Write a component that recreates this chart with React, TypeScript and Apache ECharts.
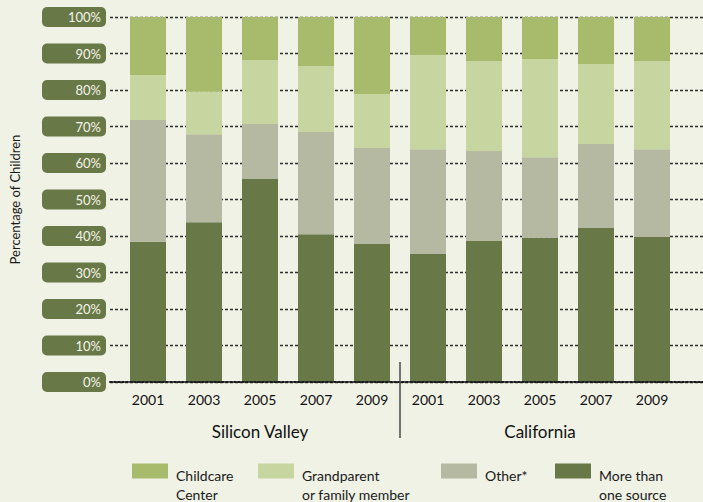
import React, { useEffect, useRef } from "react";
import * as echarts from "echarts";

const years = ["2001", "2003", "2005", "2007", "2009", "2001", "2003", "2005", "2007", "2009"];
const moreThanOne = [38.4, 43.8, 55.6, 40.5, 37.8, 35.1, 38.6, 39.5, 42.2, 39.7];
const other = [33.4, 24.1, 15.1, 28.0, 26.3, 28.7, 24.7, 22.1, 23.0, 24.1];
const grandparent = [12.3, 11.6, 17.5, 18.1, 14.8, 25.8, 24.6, 26.9, 21.9, 24.1];
const childcare = [15.9, 20.5, 11.8, 13.4, 21.1, 10.4, 12.1, 11.5, 12.9, 12.1];
const yTicks = [0, 10, 20, 30, 40, 50, 60, 70, 80, 90, 100];
const groups = ["Silicon Valley", "California"];
const legendLabels: Record<string, string[]> = {
  "Childcare Center": ["Childcare", "Center"],
  "Grandparent or family member": ["Grandparent", "or family member"],
  "Other*": ["Other*", " "],
  "More than one source": ["More than", "one source"],
};

const FONT = "Lato, 'Open Sans', sans-serif";
const C_CHILD = "#a8bb6d";
const C_GRAND = "#c7d5a0";
const C_OTHER = "#b5b9a2";
const C_MORE = "#697847";
const BG = "#eff2e5";

export default function App() {
  const ref = useRef<HTMLDivElement>(null);
  useEffect(() => {
    document.body.style.margin = "0";
    document.body.style.background = BG;
    const chart = echarts.init(ref.current!, undefined, { renderer: "svg" });
    const legendItem = (name: string, left: number) => ({
      show: true,
      data: [name],
      left,
      top: 447,
      padding: 0,
      itemWidth: 36,
      itemHeight: 15,
      selectedMode: false,
      icon: "rect",
      formatter: (n: string) => {
        const l = legendLabels[n] || [n, " "];
        return "{s| }\n{a|" + l[0] + "}\n{a|" + l[1] + "}";
      },
      textStyle: {
        fontFamily: FONT,
        fontSize: 14,
        color: "#1a1a1a",
        rich: {
          s: { lineHeight: 28, fontSize: 10 },
          a: { lineHeight: 19, fontSize: 14, fontFamily: FONT, color: "#1a1a1a", padding: [0, 0, 0, 3] },
        },
      },
    });
    const barSeries = (name: string, data: number[], color: string) => ({
      name,
      type: "bar",
      stack: "total",
      barWidth: 36,
      xAxisIndex: 0,
      yAxisIndex: 0,
      data,
      itemStyle: { color },
      z: 3,
    });
    chart.setOption({
      animation: false,
      backgroundColor: BG,
      grid: [
        { left: 120, right: 23, top: 17, bottom: 120 },
        { left: 108, right: 0, top: 17, bottom: 120 },
      ],
      xAxis: [
        {
          type: "category",
          gridIndex: 0,
          data: years,
          axisLine: { show: false },
          axisTick: { show: false },
          axisLabel: {
            margin: 10,
            fontFamily: FONT,
            fontSize: 14,
            color: "#111",
          },
        },
        {
          type: "value",
          gridIndex: 1,
          min: 0,
          max: 1,
          axisLabel: { show: false },
          axisTick: { show: false },
          splitLine: { show: false },
          axisLine: {
            show: true,
            lineStyle: { color: "#1a1a1a", width: 2, type: "dotted" },
          },
          z: 5,
        },
      ],
      yAxis: [
        {
          type: "value",
          gridIndex: 0,
          min: 0,
          max: 100,
          axisLine: { show: false },
          axisTick: { show: false },
          axisLabel: { show: false },
          splitLine: { show: false },
        },
        {
          type: "value",
          gridIndex: 1,
          min: 0,
          max: 100,
          interval: 10,
          name: "Percentage of Children",
          nameLocation: "middle",
          nameRotate: 90,
          nameGap: 89,
          nameTextStyle: { fontFamily: FONT, fontSize: 13, color: "#1a1a1a" },
          axisLine: { show: false },
          axisTick: { show: false },
          axisLabel: {
            formatter: (v: number) => (yTicks.includes(v) ? v + "%" : ""),
            margin: 4,
            fontFamily: FONT,
            fontSize: 13,
            lineHeight: 14,
            color: "#f4f5ea",
            backgroundColor: C_MORE,
            borderRadius: 5,
            width: 58,
            align: "right",
            padding: [3, 5, 3, 1],
          },
          splitLine: {
            show: true,
            lineStyle: { color: "#2f2f2f", width: 1.3, type: [3, 2] },
          },
        },
      ],
      legend: [
        legendItem("Childcare Center", 132),
        legendItem("Grandparent or family member", 258),
        legendItem("Other*", 441),
        legendItem("More than one source", 555),
      ],
      graphic: [
        {
          type: "line",
          shape: { x1: 400, y1: 362, x2: 400, y2: 438 },
          style: { stroke: "#4a4a4a", lineWidth: 1.5 },
          z: 10,
        },
        {
          type: "text",
          x: 260,
          y: 431,
          style: {
            text: groups[0],
            fontFamily: FONT,
            fontSize: 17,
            fill: "#111",
            textAlign: "center",
            textVerticalAlign: "middle",
          },
        },
        {
          type: "text",
          x: 540,
          y: 431,
          style: {
            text: groups[1],
            fontFamily: FONT,
            fontSize: 17,
            fill: "#111",
            textAlign: "center",
            textVerticalAlign: "middle",
          },
        },
      ],
      series: [
        barSeries("More than one source", moreThanOne, C_MORE),
        barSeries("Other*", other, C_OTHER),
        barSeries("Grandparent or family member", grandparent, C_GRAND),
        barSeries("Childcare Center", childcare, C_CHILD),
      ],
    });
    return () => chart.dispose();
  }, []);
  return <div ref={ref} style={{ width: 703, height: 502 }} />;
}
